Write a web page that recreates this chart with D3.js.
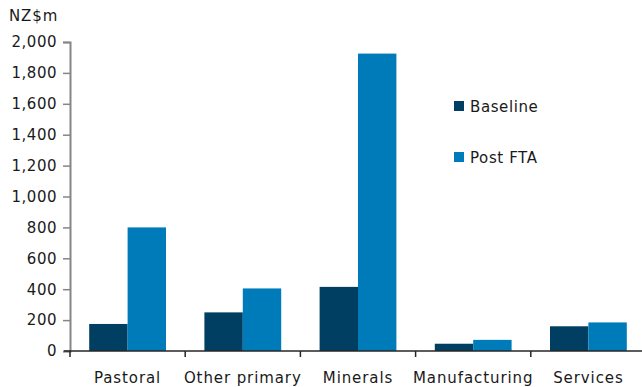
<!DOCTYPE html>
<html>
<head>
<meta charset="utf-8">
<script src="https://cdn.jsdelivr.net/npm/d3@7"></script>
<style>
  html, body { margin: 0; padding: 0; background: #fff; }
  svg { display: block; }
  text { font-family: "DejaVu Sans", Verdana, sans-serif; fill: #1a1a1a; }
</style>
</head>
<body>
<svg id="chart" width="642" height="387"></svg>
<script>
// Sector exports, NZ$m
const categories = ["Pastoral", "Other primary", "Minerals", "Manufacturing", "Services"];
const seriesNames = ["Baseline", "Post FTA"];
const baseline = [175, 250, 415, 47, 160];
const postFTA = [800, 405, 1925, 72, 185];
const yTicks = [0, 200, 400, 600, 800, 1000, 1200, 1400, 1600, 1800, 2000];
const colors = ["#003f62", "#007bba"];

const svg = d3.select("#chart");
const margin = { left: 70, top: 42, bottom: 351, right: 646 };

const x = d3.scaleBand().domain(categories).range([margin.left, margin.right]);
const xInner = d3.scaleBand().domain(seriesNames)
  .range([0, x.bandwidth()]).paddingOuter(0.5).paddingInner(0);
const y = d3.scaleLinear().domain([0, 2000]).range([margin.bottom, margin.top]);

const rows = categories.map((c, i) => ({ cat: c, values: [baseline[i], postFTA[i]] }));

// bars
const groups = svg.append("g").selectAll("g").data(rows).join("g")
  .attr("transform", d => `translate(${x(d.cat)},0)`);
groups.selectAll("rect")
  .data(d => d.values.map((v, j) => ({ name: seriesNames[j], v, j })))
  .join("rect")
  .attr("x", d => xInner(d.name))
  .attr("width", xInner.bandwidth())
  .attr("y", d => y(d.v))
  .attr("height", d => y(0) - y(d.v))
  .attr("fill", d => colors[d.j]);

// y axis
const yAxis = svg.append("g")
  .attr("transform", `translate(${margin.left},0)`)
  .call(d3.axisLeft(y).tickValues(yTicks).tickSize(7).tickPadding(6)
    .tickFormat(d3.format(",")));
yAxis.select(".domain").attr("stroke", "#858585").attr("stroke-width", 2);
yAxis.selectAll(".tick line").attr("stroke", "#858585").attr("stroke-width", 1.5);
yAxis.selectAll(".tick text").style("font-size", "15px").style("letter-spacing", "0.5px")
  .attr("fill", "#1a1a1a");

// x axis
const xAxis = svg.append("g")
  .attr("transform", `translate(0,${y(0)})`);
xAxis.append("line")
  .attr("x1", margin.left - 6).attr("x2", 642)
  .attr("stroke", "#262626").attr("stroke-width", 1.5);
const boundaries = categories.map(c => x(c));
xAxis.selectAll("line.sep").data(boundaries).join("line")
  .attr("class", "sep")
  .attr("x1", d => d).attr("x2", d => d)
  .attr("y1", 0).attr("y2", 6)
  .attr("stroke", "#262626").attr("stroke-width", 1.5);
xAxis.selectAll("text").data(categories).join("text")
  .attr("x", d => x(d) + x.bandwidth() / 2)
  .attr("y", 32)
  .attr("text-anchor", "middle")
  .style("font-size", "15px").style("letter-spacing", "0.9px")
  .text(d => d);

// units label
svg.append("text").attr("x", 9).attr("y", 21)
  .style("font-size", "15px").style("letter-spacing", "0.9px").text("NZ$m");

// legend
const legend = svg.append("g").selectAll("g").data(seriesNames).join("g")
  .attr("transform", (d, i) => `translate(454,${101 + i * 51})`);
legend.append("rect").attr("width", 10).attr("height", 10)
  .attr("fill", (d, i) => colors[i]);
legend.append("text").attr("x", 16).attr("y", 11)
  .style("font-size", "15px").style("letter-spacing", "0.6px")
  .text(d => d);
</script>
</body>
</html>
